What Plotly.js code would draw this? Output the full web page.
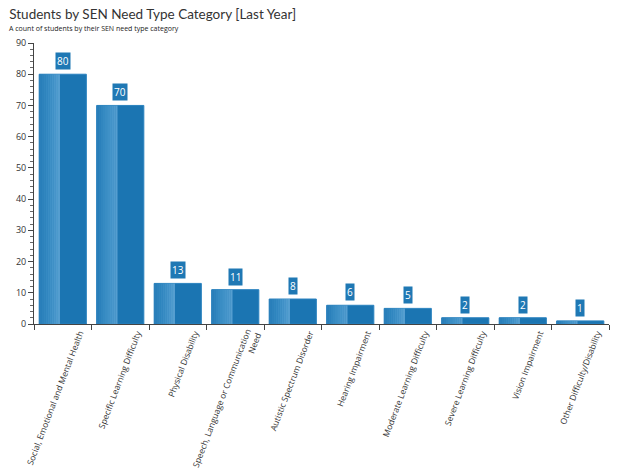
<!DOCTYPE html>
<html><head><meta charset="utf-8">
<script src="https://cdn.plot.ly/plotly-3.0.1.min.js"></script>
<style>html,body{margin:0;padding:0;background:#fff}#chart{width:617px;height:476px}</style>
</head><body><div id="chart"></div>
<script>
const categories = ["Social, Emotional and Mental Health","Specific Learning Difficulty","Physical Disability","Speech, Language or Communication<br>Need","Autistic Spectrum Disorder","Hearing Impairment","Moderate Learning Difficulty","Severe Learning Difficulty","Vision Impairment","Other Difficulty/Disability"];
const counts = [80,70,13,11,8,6,5,2,2,1];
const yTicks = [0,10,20,30,40,50,60,70,80,90];

const W = 0.82;
const stripColors = ['#2a7fba','#2d82bc','#3186bf','#358ac2','#3a8dc4','#3f91c7','#4595ca','#4a98cc','#509bce','#559ed0'];
const traces = [
  {type:'bar', x:categories, y:counts, width:W, marker:{color:'#1b75b2', line:{width:1, color:'#2a82bf'}}, hoverinfo:'x+y'}
];
const stripW = W*0.44/stripColors.length;
stripColors.forEach((col,k)=>{
  traces.push({type:'bar', x:categories, y:counts, width:stripW*1.05, offset:-W/2+k*stripW,
    marker:{color:col, line:{width:0}}, hoverinfo:'skip'});
});

const annotations = categories.map((c,i)=>({
  x:c, y:counts[i], xref:'x', yref:'y', text:String(counts[i]), showarrow:false,
  yanchor:'bottom', yshift:4, bgcolor:'#1f78b4', font:{color:'#ffffff', size:10, family:'Open Sans, sans-serif'},
  borderpad:1
}));
annotations.push({xref:'paper', yref:'paper', x:-0.047, y:1.053, xanchor:'left', yanchor:'middle', showarrow:false,
  text:'A count of students by their SEN need type category', font:{size:7, color:'#222', family:'Open Sans, sans-serif'}});

const layout = {
  width:617, height:476,
  margin:{l:34, r:8, t:43, b:152},
  paper_bgcolor:'#fff', plot_bgcolor:'#fff',
  barmode:'overlay', showlegend:false,
  title:{text:'Students by SEN Need Type Category [Last Year]', x:0.015, xanchor:'left', y:0.971, yanchor:'middle', font:{size:13.5, color:'#333', family:'Lato, sans-serif'}},
  xaxis:{type:'category', tickson:'boundaries', ticks:'outside', ticklen:5, tickcolor:'#444', showline:true, linecolor:'#444', linewidth:1,
    tickangle:-69, ticklabelshift:17, tickfont:{size:8.5, color:'#333', family:'Open Sans, sans-serif'}, showgrid:false, range:[-0.5,9.5]},
  yaxis:{range:[0,90], tickvals:yTicks, ticks:'outside', ticklen:5, tickcolor:'#444', showline:true, linecolor:'#444', linewidth:1,
    showgrid:false, zeroline:false, tickfont:{size:9, color:'#333', family:'Open Sans, sans-serif'},
    minor:{dtick:2, ticks:'outside', ticklen:3, tickcolor:'#666', showgrid:false}},
  annotations:annotations
};
Plotly.newPlot('chart', traces, layout, {displayModeBar:false, staticPlot:true});
</script></body></html>
